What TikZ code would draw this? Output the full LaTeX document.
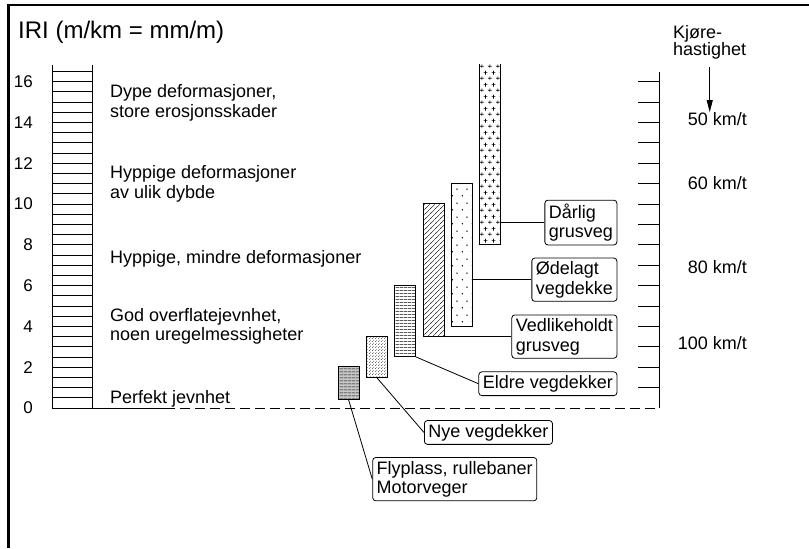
\documentclass[tikz,border=0pt]{standalone}
\usepackage{fontspec}
\setmainfont{Liberation Sans}
\usetikzlibrary{patterns.meta,arrows.meta}

% fills of the bars
\tikzdeclarepattern{
  name=plusmarks,
  type=uncolored,
  bounding box={(0pt,0pt) and (8pt,12pt)},
  tile size={(8pt,12pt)},
  code={
    \draw[line width=0.7pt] (0pt,3pt) -- (4pt,3pt) (2pt,1pt) -- (2pt,5pt)
                            (4pt,9pt) -- (8pt,9pt) (6pt,7pt) -- (6pt,11pt);
  }
}
\tikzdeclarepattern{
  name=sparsedots,
  type=uncolored,
  bounding box={(0pt,0pt) and (10pt,14pt)},
  tile size={(10pt,14pt)},
  code={
    \fill (2.5pt,3.5pt) circle (0.85pt) (7.5pt,10.5pt) circle (0.85pt);
  }
}
\tikzdeclarepattern{
  name=finedots,
  type=uncolored,
  bounding box={(0pt,0pt) and (3pt,3pt)},
  tile size={(3pt,3pt)},
  code={
    \fill (0.75pt,0.75pt) circle (0.5pt) (2.25pt,2.25pt) circle (0.5pt);
  }
}
\tikzdeclarepattern{
  name=denselines,
  type=uncolored,
  bounding box={(0pt,0pt) and (4pt,3.4pt)},
  tile size={(4pt,3.4pt)},
  code={
    \draw[line width=0.6pt] (-0.1pt,1.7pt) -- (4.1pt,1.7pt);
  }
}
\tikzdeclarepattern{
  name=tightlines,
  type=uncolored,
  bounding box={(0pt,0pt) and (4pt,2.6pt)},
  tile size={(4pt,2.6pt)},
  code={
    \draw[line width=0.7pt] (-0.1pt,1.3pt) -- (4.1pt,1.3pt);
  }
}
\tikzdeclarepattern{
  name=hatch,
  type=uncolored,
  bounding box={(0pt,0pt) and (5pt,5pt)},
  tile size={(5pt,5pt)},
  code={
    \draw[line width=0.5pt] (-0.5pt,-0.5pt) -- (5.5pt,5.5pt);
  }
}

\tikzset{
  thin line/.style={line width=0.8pt},
  lbl/.style={font={\fontsize{18}{19.5}\selectfont}, inner sep=0pt, align=left},
  num/.style={font={\fontsize{17}{17}\selectfont}, inner sep=0pt},
  box/.style={draw, thin line, rounded corners=3pt, inner xsep=4pt, inner ysep=3.5pt,
              align=left, font={\fontsize{18}{19.5}\selectfont}},
  bar/.style={draw, thin line, minimum width=21pt, inner sep=0pt, anchor=south west},
}

\begin{document}
\begin{tikzpicture}[x=1pt, y=20.4pt]

\def \yu        {20.4pt}
\def \xscaleL   {52}
\def \xscaleR   {92}
\def \xaxis     {659}
\def \xtick     {638}
\def \xtext     {110}
\def \ytopscale {16.8}
\def \ytopaxis  {16.47}
\def \xboxR     {617.3}

\useasboundingbox (0,-6.863) rectangle (809,20);

% frame
\draw[line width=2.7pt] (8.5,-6.863) -- (8.5,19.755) -- (809,19.755);

% title
\node[lbl, anchor=west, font={\fontsize{24}{24}\selectfont}] (title) at (18,18.43) {IRI (m/km = mm/m)};

% left scale
\draw[thin line] (\xscaleL,\ytopscale) -- (\xscaleL,0) -- (\xscaleR,0) -- (\xscaleR,\ytopscale);
\foreach \v in {0.5,1,...,16.5}
  \draw[thin line] (\xscaleL,\v) -- (\xscaleR,\v);
\foreach \n in {0,2,...,16}
  \node[num, anchor=east] (n\n) at (33,\n) {\n};

% zero line
\draw[thin line] (\xscaleR,0) -- (165,0);
\draw[thin line, dash pattern=on 10pt off 5pt] (165,0) -- (\xaxis,0);

% descriptions
\node[lbl, anchor=west] (deep)    at (\xtext,14.95) {Dype deformasjoner,\\store erosjonsskader};
\node[lbl, anchor=west] (freq)    at (\xtext,10.98) {Hyppige deformasjoner\\av ulik dybde};
\node[lbl, anchor=west] (minor)   at (\xtext,7.3)   {Hyppige, mindre deformasjoner};
\node[lbl, anchor=west] (good)    at (\xtext,4.0)   {God overflatejevnhet,\\noen uregelmessigheter};
\node[lbl, anchor=west] (perfect) at (\xtext,0.45)  {Perfekt jevnhet};

% bars
\node[bar, minimum height=1.6*\yu, fill=black!22, postaction={pattern=tightlines}] (bFly) at (337.7,0.4) {};
\node[bar, minimum height=2*\yu, pattern=finedots] (bNye) at (365.7,1.5) {};
\node[bar, minimum height=3.5*\yu, pattern=denselines] (bEldre) at (394.3,2.5) {};
\node[bar, minimum height=6.5*\yu, pattern=hatch] (bVedl) at (422.7,3.5) {};
\node[bar, minimum height=7*\yu, pattern=sparsedots] (bOdelagt) at (450.7,4) {};
\node[bar, draw=none, minimum height=8.8*\yu, pattern=plusmarks] (bDarlig) at (479,8) {};
\draw[thin line] (bDarlig.north west) -- (bDarlig.south west) -- (bDarlig.south east) -- (bDarlig.north east);

% labels of the bars
\node[box, anchor=east] (darlig)  at (\xboxR,9.09) {Dårlig\\grusveg};
\node[box, anchor=east] (odelagt) at (\xboxR,6.29) {Ødelagt\\vegdekke};
\node[box, anchor=east] (vedl)    at (\xboxR,3.5)  {Vedlikeholdt\\grusveg};
\node[box, anchor=east] (eldre)   at (\xboxR,1.19) {Eldre vegdekker};
\node[box, anchor=west] (nye)     at (424,-1.2)    {Nye vegdekker};
\node[box, anchor=west] (fly)     at (372.3,-3.49) {Flyplass, rullebaner\\Motorveger};

\draw[thin line] (bDarlig.east |- darlig.west) -- (darlig.west);
\draw[thin line] (bOdelagt.east |- odelagt.west) -- (odelagt.west);
\draw[thin line] (bVedl.south east) -- (vedl.west);
\draw[thin line] (bEldre.south east) -- (eldre.west);
\draw[thin line] (bNye.south) -- (nye.west);
\draw[thin line] (bFly.south) -- (fly.west);

% speed axis
\draw[thin line] (\xaxis,0) -- (\xaxis,\ytopaxis);
\foreach \v in {1,...,16}
  \draw[thin line] (\xtick,\v) -- (\xaxis,\v);

\node[lbl, anchor=west, font={\fontsize{18}{17}\selectfont}] (kjore) at (673,17.94) {Kjøre-\\hastighet};
\node[lbl, anchor=east] (s50)  at (747,14.17) {50 km/t};
\node[lbl, anchor=east] (s60)  at (747,11.03) {60 km/t};
\node[lbl, anchor=east] (s80)  at (747,6.91)  {80 km/t};
\node[lbl, anchor=east] (s100) at (747,3.19)  {100 km/t};

\draw[thin line, -{Triangle[length=12pt, width=6pt]}, shorten <=8pt]
  (kjore.south) -- (kjore.south |- s50.north);

\end{tikzpicture}
\end{document}
